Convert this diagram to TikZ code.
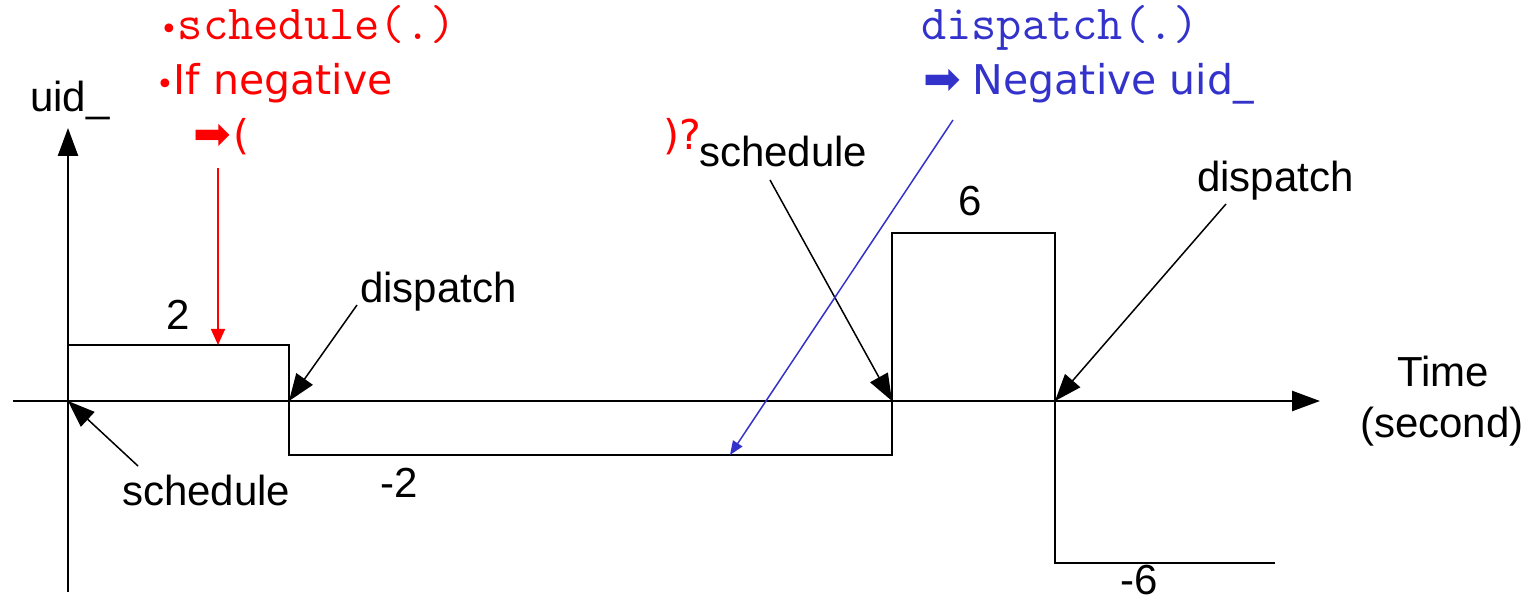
\documentclass[tikz,border=0pt]{standalone}
\usepackage{fontspec}
\setmainfont{Liberation Sans}
\newfontfamily\handf{DejaVu Sans}
\usetikzlibrary{arrows.meta}
\definecolor{myred}{RGB}{255,0,0}
\definecolor{myblue}{RGB}{51,51,204}
\newcommand{\hvyarrow}{{\handf\fontsize{45}{45}\selectfont ➡}}
\begin{document}
\begin{tikzpicture}[x=1pt,y=-1pt,
 lbl/.style={font=\fontsize{42}{48}\selectfont, inner sep=0pt, anchor=base west},
 code/.style={font=\ttfamily\fontsize{49}{54}\selectfont, inner sep=0pt, anchor=base west},
 hand/.style={font=\handf\fontsize{41}{46}\selectfont, inner sep=0pt, anchor=base west},
 axis/.style={line width=2.5pt, -{Triangle[length=28pt,width=20pt]}},
 sig/.style={line width=2pt},
 call/.style={line width=1.5pt, -{Triangle[length=27pt,width=20pt]}},
]
\useasboundingbox (0,0) rectangle (1529,601);
% axes
\coordinate (ybot) at (68,592);
\coordinate (ytop) at (68,128);
\coordinate (xl) at (13,401);
\coordinate (xr) at (1320,401);
\draw[axis] (ybot) -- (ytop);
\draw[axis] (xl) -- (xr);
% signal
\coordinate (o) at (68,401);
\coordinate (s1) at (68,345);
\coordinate (s2) at (289,345);
\coordinate (d1) at (289,401);
\coordinate (s3) at (289,455);
\coordinate (s4) at (892,455);
\coordinate (sc2) at (892,401);
\coordinate (s5) at (892,233);
\coordinate (s6) at (1055,233);
\coordinate (d2) at (1055,401);
\coordinate (s7) at (1055,563);
\coordinate (s8) at (1275,563);
\draw[sig] (s1) -- (s2) -- (s3) -- (s4) -- (s5) -- (s6) -- (s7) -- (s8);
% labels
\node[lbl] (uid) at (30,112) {uid\_};
\node[lbl] (v2) at (166,330) {2};
\node[lbl] (vm2) at (380,497) {-2};
\node[lbl] (v6) at (958,216) {6};
\node[lbl] (vm6) at (1120,594) {-6};
\node[lbl] (time) at (1397,387) {Time};
\node[lbl] (sec) at (1360,438) {(second)};
\node[lbl] (disp1) at (360,303) {dispatch};
\node[lbl] (sched1) at (122,505) {schedule};
\node[lbl] (sched2) at (699,167) {schedule};
\node[lbl] (disp2) at (1197,192) {dispatch};
% callouts
\coordinate (c1) at (357,305);
\coordinate (c2) at (138,466);
\coordinate (c3) at (770,180);
\coordinate (c4) at (1226,204);
\draw[call] (c1) -- (d1);
\draw[call] (c2) -- (o);
\draw[call] (c3) -- (sc2);
\draw[call] (c4) -- (d2);
% red notes
\node[code, text=myred] (rs) at (160,40) {{\handf\fontsize{30}{30}\selectfont•}schedule(.)};
\node[hand, text=myred] (rn) at (156,95) {{\fontsize{30}{30}\selectfont•}If negative};
\node[hand, text=myred] (rq) at (193,150) {\hvyarrow\hspace{3pt}(\hspace{414pt})?};
\coordinate (ra) at (218,168);
\coordinate (rb) at (218,345);
\draw[myred, line width=1.5pt, -{Triangle[length=16pt,width=14pt]}] (ra) -- (rb);
% blue notes
\node[code, text=myblue] (bs) at (921,40) {dispatch(.)};
\node[hand, text=myblue] (bn) at (923,95) {\hvyarrow\hspace{12pt}Negative uid\_};
\coordinate (ba) at (953,120);
\coordinate (bb) at (730,455);
\draw[myblue, line width=1.5pt, -{Triangle[length=14pt,width=11pt]}] (ba) -- (bb);
\end{tikzpicture}
\end{document}
